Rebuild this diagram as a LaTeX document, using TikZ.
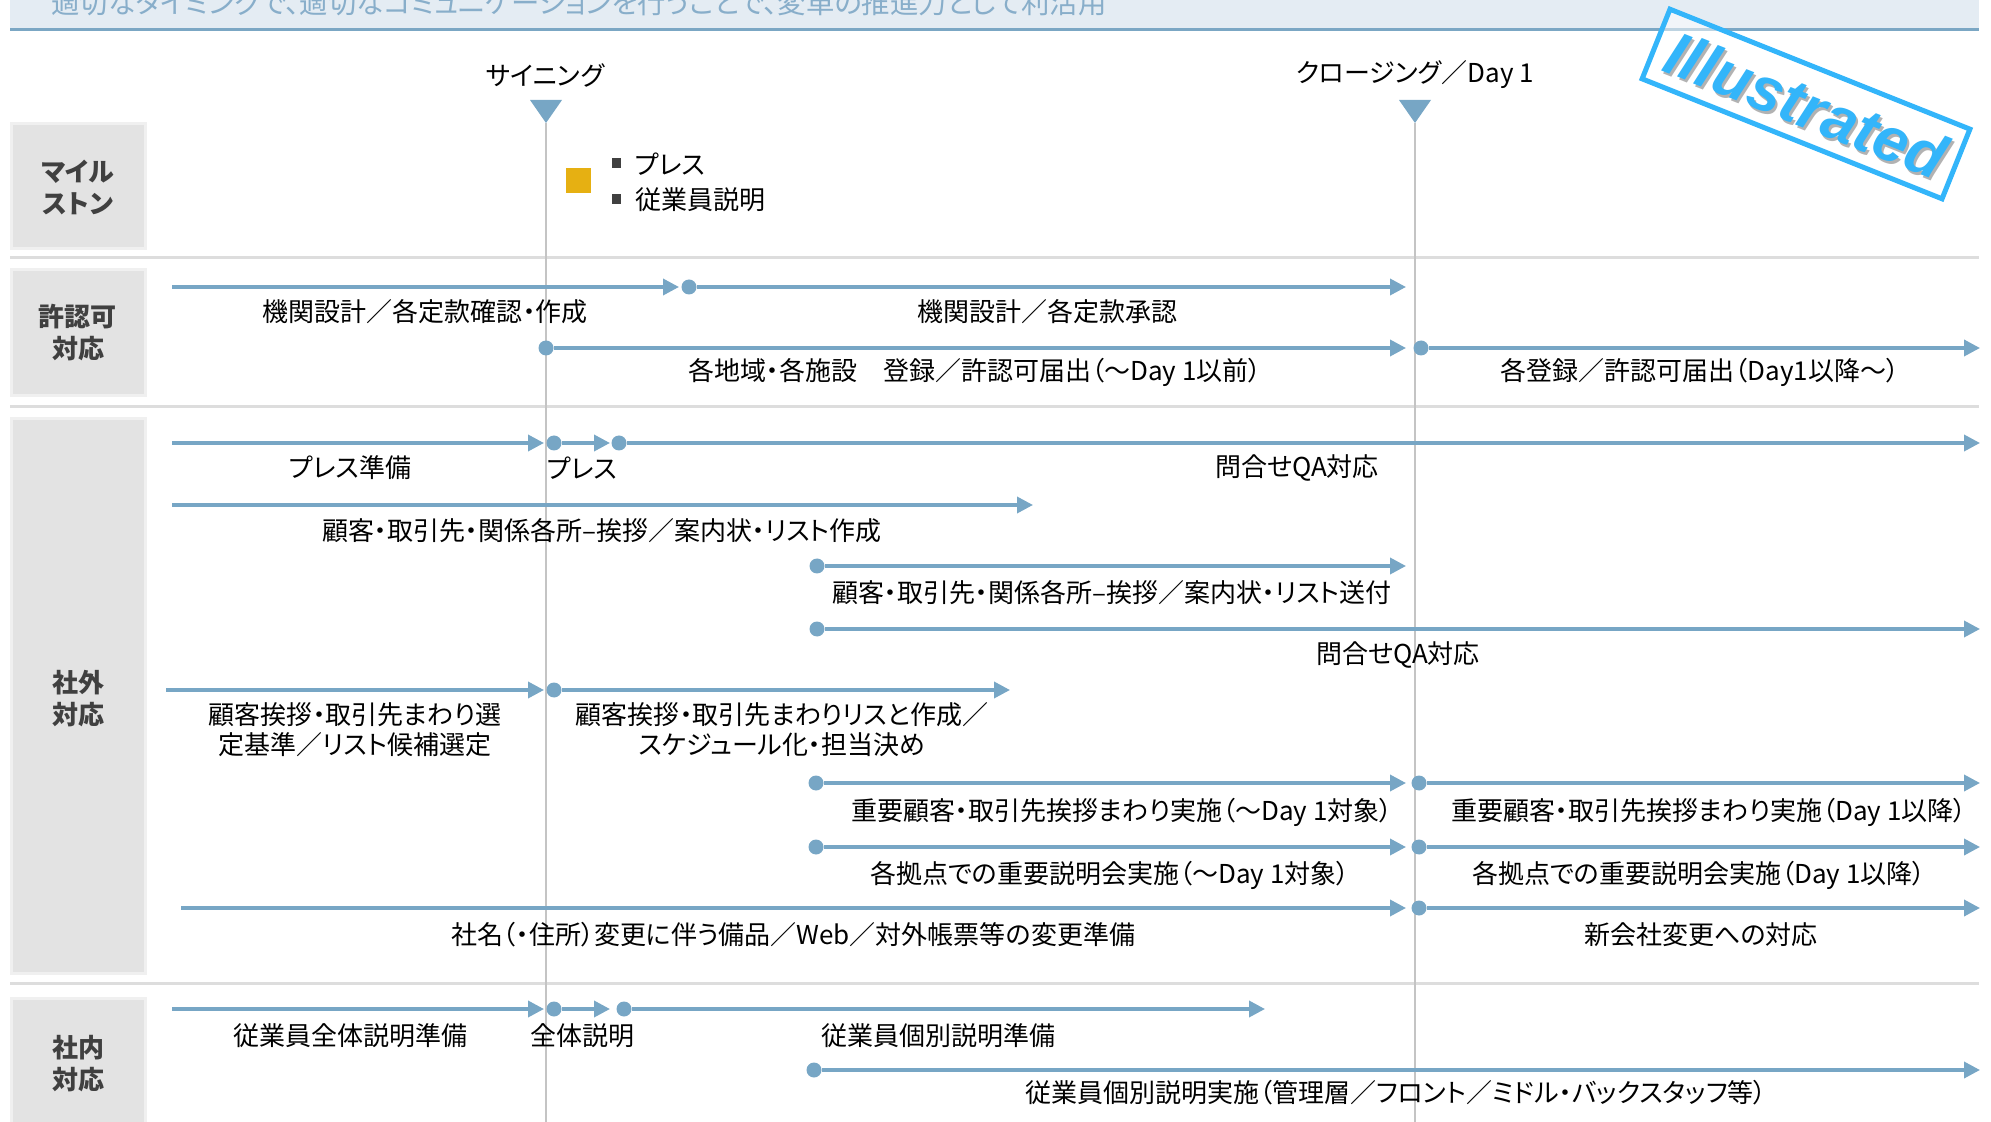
\documentclass[tikz,border=0pt]{standalone}
\usepackage{fontspec}
\setmainfont{Noto Sans CJK JP}[RawFeature=+palt]
\newfontfamily\stampfont{Liberation Sans}
\usetikzlibrary{arrows.meta}
\definecolor{arrowblue}{HTML}{77A6C5}
\definecolor{titlebg}{HTML}{E4ECF3}
\definecolor{titleline}{HTML}{7BA7C4}
\definecolor{titletext}{HTML}{88AECA}
\definecolor{catfill}{HTML}{E3E3E3}
\definecolor{catborder}{HTML}{F0F0F0}
\definecolor{catgray}{HTML}{404040}
\definecolor{sepgray}{HTML}{DDDDDD}
\definecolor{vgray}{HTML}{C4C4C4}
\definecolor{stampblue}{HTML}{33B5FA}
\definecolor{msorange}{HTML}{E6B012}
\begin{document}
\begin{tikzpicture}[x=0.5pt,y=-0.5pt,
 lbl/.style={font=\fontsize{13}{15}\selectfont, text=black, inner sep=0pt, align=center},
 cat/.style={font=\fontsize{13}{16}\selectfont\bfseries, text=catgray, align=center, inner sep=0pt},
 catbox/.style={fill=catfill, draw=catborder, line width=1.5pt},
 sep/.style={draw=sepgray, line width=1.5pt},
 vline/.style={draw=vgray, line width=0.75pt},
 arr/.style={draw=arrowblue, line width=1.8pt, -{Triangle[length=8pt,width=8pt]}},
 dot/.style={circle, fill=arrowblue, minimum size=7.5pt, inner sep=0pt},
 bullet/.style={fill=catgray, minimum width=4.5pt, minimum height=5pt, inner sep=0pt},
]
\useasboundingbox (0,0) rectangle (1991,1122);
\clip (0,0) rectangle (1991,1122);

% title bar
\fill[titlebg] (10,-5) rectangle (1979,29);
\draw[titleline, line width=1.5pt] (10,30) -- (1979,30);
\node[anchor=base west, text=titletext, font=\fontsize{14.2}{17}\selectfont, inner sep=0pt] (title) at (51,14)
 {適切なタイミングで、適切なコミュニケーションを行うことで、変革の推進力として利活用};

% category boxes
\draw[catbox] (11.5,123.5) rectangle (145.5,248.5);
\draw[catbox] (11.5,269.5) rectangle (145.5,395.5);
\draw[catbox] (11.5,418.5) rectangle (145.5,973.5);
\draw[catbox] (11.5,998.5) rectangle (145.5,1140);
\node[cat] (cm) at (78,187) {マイル\\ストン};
\node[cat] (ck) at (78,333) {許認可\\対応};
\node[cat] (cg) at (78,699) {社外\\対応};
\node[cat] (cn) at (78,1064) {社内\\対応};

% separators
\draw[sep] (10,258) -- (1979,258);
\draw[sep] (10,407) -- (1979,407);
\draw[sep] (10,983) -- (1979,983);

% milestone markers
\coordinate (sigtip) at (546,123);
\coordinate (clotip) at (1415,123);
\fill[arrowblue] (530,100) -- (562,100) -- (sigtip) -- cycle;
\fill[arrowblue] (1399,100) -- (1431,100) -- (clotip) -- cycle;
\coordinate (sigbot) at (546,1122);
\coordinate (clobot) at (1415,1122);
\draw[vline] (sigtip) -- (sigbot);
\draw[vline] (clotip) -- (clobot);
\node[lbl] (sig) at (545,75) {サイニング};
\node[lbl] (clo) at (1415,75) {クロージング／Day 1};

% milestone legend
\node[fill=msorange, minimum width=12.5pt, minimum height=12.5pt, inner sep=0pt] (msq) at (578.5,180.5) {};
\node[bullet] (b1) at (616.5,163) {};
\node[bullet] (b2) at (616.5,199.5) {};
\node[lbl, anchor=west] (l1) at (635,164) {プレス};
\node[lbl, anchor=west] (l2) at (635,200) {従業員説明};

% ---- 許認可対応
\coordinate (a1s) at (172,287); \coordinate (a1e) at (679,287);
\node[dot] (a1d) at (689,287) {}; \coordinate (a1f) at (1406,287);
\draw[arr] (a1s) -- (a1e);
\draw[arr] (a1d) -- (a1f);
\node[dot] (a2d) at (546,348) {}; \coordinate (a2e) at (1406,348);
\node[dot] (a2g) at (1421,348) {}; \coordinate (a2h) at (1980,348);
\draw[arr] (a2d) -- (a2e);
\draw[arr] (a2g) -- (a2h);
\node[lbl] at (425,312) (ta1) {機関設計／各定款確認・作成};
\node[lbl] at (1047,312) (ta2) {機関設計／各定款承認};
\node[lbl] at (975,372) (ta3) {各地域・各施設　登録／許認可届出（～Day 1以前）};
\node[lbl] at (1700,372) (ta4) {各登録／許認可届出（Day1以降～）};

% ---- 社外対応
% B1
\coordinate (b1s) at (172,443); \coordinate (b1e) at (544,443);
\node[dot] (b1d) at (554,443) {}; \coordinate (b1f) at (610,443);
\node[dot] (b1g) at (619,443) {}; \coordinate (b1h) at (1980,443);
\draw[arr] (b1s) -- (b1e);
\draw[arr] (b1d) -- (b1f);
\draw[arr] (b1g) -- (b1h);
\node[lbl] at (350,468) (tb1) {プレス準備};
\node[lbl] at (582,468) (tb2) {プレス};
\node[lbl] at (1297,468) (tb3) {問合せQA対応};
% B2
\coordinate (b2s) at (172,505); \coordinate (b2e) at (1033,505);
\draw[arr] (b2s) -- (b2e);
\node[lbl] at (602,531) (tb4) {顧客・取引先・関係各所–挨拶／案内状・リスト作成};
% B3
\node[dot] (b3d) at (817,566) {}; \coordinate (b3e) at (1406,566);
\draw[arr] (b3d) -- (b3e);
\node[lbl] at (1112,593) (tb5) {顧客・取引先・関係各所–挨拶／案内状・リスト送付};
% B4
\node[dot] (b4d) at (817,629) {}; \coordinate (b4e) at (1980,629);
\draw[arr] (b4d) -- (b4e);
\node[lbl] at (1398,655) (tb6) {問合せQA対応};
% B5
\coordinate (b5s) at (166,690); \coordinate (b5e) at (544,690);
\node[dot] (b5d) at (554,690) {}; \coordinate (b5f) at (1010,690);
\draw[arr] (b5s) -- (b5e);
\draw[arr] (b5d) -- (b5f);
\node[lbl] at (355,730) (tb7) {顧客挨拶・取引先まわり選\\定基準／リスト候補選定};
\node[lbl] at (782,730) (tb8) {顧客挨拶・取引先まわりリスと作成／\\スケジュール化・担当決め};
% B6
\node[dot] (b6d) at (816,783) {}; \coordinate (b6e) at (1406,783);
\node[dot] (b6g) at (1419,783) {}; \coordinate (b6h) at (1980,783);
\draw[arr] (b6d) -- (b6e);
\draw[arr] (b6g) -- (b6h);
\node[lbl] at (1122,812) (tb9) {重要顧客・取引先挨拶まわり実施（～Day 1対象）};
\node[lbl] at (1709,812) (tb10) {重要顧客・取引先挨拶まわり実施（Day 1以降）};
% B7
\node[dot] (b7d) at (816,847) {}; \coordinate (b7e) at (1406,847);
\node[dot] (b7g) at (1419,847) {}; \coordinate (b7h) at (1980,847);
\draw[arr] (b7d) -- (b7e);
\draw[arr] (b7g) -- (b7h);
\node[lbl] at (1110,875) (tb11) {各拠点での重要説明会実施（～Day 1対象）};
\node[lbl] at (1699,875) (tb12) {各拠点での重要説明会実施（Day 1以降）};
% B8
\coordinate (b8s) at (181,908); \coordinate (b8e) at (1406,908);
\node[dot] (b8g) at (1419,908) {}; \coordinate (b8h) at (1980,908);
\draw[arr] (b8s) -- (b8e);
\draw[arr] (b8g) -- (b8h);
\node[lbl] at (793,935) (tb13) {社名（・住所）変更に伴う備品／Web／対外帳票等の変更準備};
\node[lbl] at (1701,935) (tb14) {新会社変更への対応};

% ---- 社内対応
\coordinate (c1s) at (172,1009); \coordinate (c1e) at (544,1009);
\node[dot] (c1d) at (554,1009) {}; \coordinate (c1f) at (610,1009);
\node[dot] (c1g) at (624,1009) {}; \coordinate (c1h) at (1265,1009);
\draw[arr] (c1s) -- (c1e);
\draw[arr] (c1d) -- (c1f);
\draw[arr] (c1g) -- (c1h);
\node[lbl] at (350,1036) (tc1) {従業員全体説明準備};
\node[lbl] at (582,1036) (tc2) {全体説明};
\node[lbl] at (938,1036) (tc3) {従業員個別説明準備};
\node[dot] (c2d) at (814,1070) {}; \coordinate (c2e) at (1980,1070);
\draw[arr] (c2d) -- (c2e);
\node[lbl] at (1396,1093) (tc4) {従業員個別説明実施（管理層／フロント／ミドル・バックスタッフ等）};

% ---- stamp
\node[rotate=-21.8, draw=stampblue, line width=2.5pt, fill=white, fill opacity=0.5,
      minimum width=161.5pt, minimum height=37.5pt, inner sep=0pt] (stamp) at (1806,104) {};
\node[rotate=-21.8, text=black, text opacity=0.3, font=\stampfont\bfseries\itshape\fontsize{31}{31}\selectfont, inner sep=0pt]
  (stampshadow) at (1808,108) {Illustrated};
\node[rotate=-21.8, text=stampblue, font=\stampfont\bfseries\itshape\fontsize{31}{31}\selectfont, inner sep=0pt]
  (stamptext) at (1806,105) {Illustrated};
\end{tikzpicture}
\end{document}
